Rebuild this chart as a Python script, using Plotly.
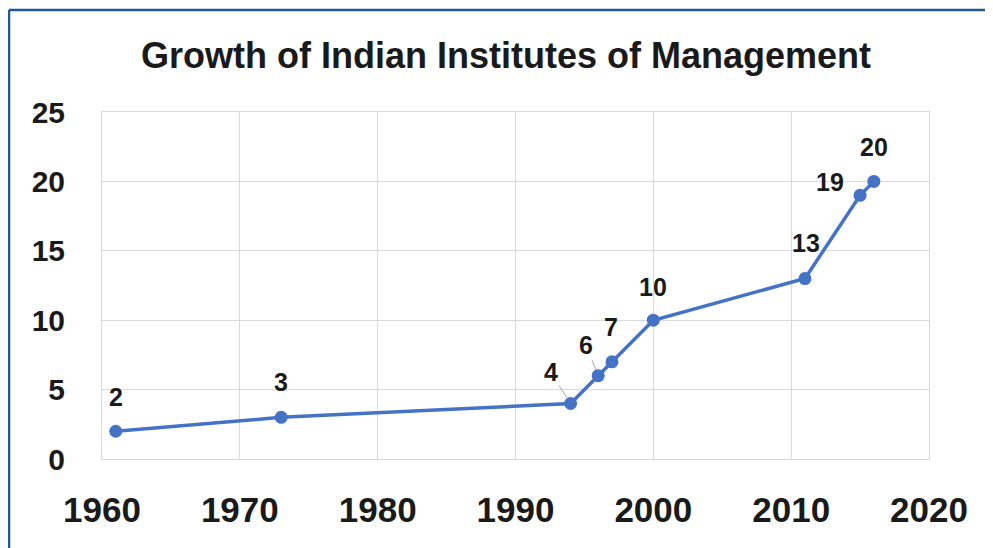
import plotly.graph_objects as go

years = [1961, 1973, 1994, 1996, 1997, 2000, 2011, 2015, 2016]
counts = [2, 3, 4, 6, 7, 10, 13, 19, 20]
x_ticks = [1960, 1970, 1980, 1990, 2000, 2010, 2020]
y_ticks = [0, 5, 10, 15, 20, 25]
title_text = "Growth of Indian Institutes of Management"

# label offsets (pixels) relative to each point: (dx, dy, leader line?)
label_offsets = [(0, -34, False), (0, -35, False), (-20, -31, True), (-12, -31, True),
                 (-1, -35, False), (0, -33, False), (1, -36, False), (-30, -13, False),
                 (0, -34, False)]

LINE = "#4472C4"
TXT = "#1a1a1a"
FONT = "Liberation Sans"

fig = go.Figure()
fig.add_trace(go.Scatter(
    x=years, y=counts, mode="lines+markers",
    line=dict(color=LINE, width=3.5),
    marker=dict(color=LINE, size=13),
    hoverinfo="x+y", showlegend=False,
))

for xv, yv, (dx, dy, leader) in zip(years, counts, label_offsets):
    if leader:
        fig.add_annotation(x=xv, y=yv, text=str(yv), showarrow=True,
                           ax=dx, ay=dy, arrowhead=0, arrowwidth=1,
                           arrowcolor="#a6a6a6", standoff=6,
                           font=dict(family=FONT, size=25, color=TXT, weight=700))
    else:
        fig.add_annotation(x=xv, y=yv, text=str(yv), showarrow=False,
                           xshift=dx, yshift=-dy,
                           font=dict(family=FONT, size=25, color=TXT, weight=700))

W, H = 993, 548
OFF = 8  # page body margin
L, R, T, B = 102 - OFF, 993 - 929 + OFF, 112 - OFF, 548 - 459 + OFF
pw, ph = W - L - R, H - T - B
bx = (9 - OFF - L) / pw
by = 1 + (T - (10 - OFF)) / ph
fig.add_shape(type="line", xref="paper", yref="paper", x0=bx, x1=bx, y0=-0.4, y1=by,
              line=dict(color="#1F5A96", width=2.5))
fig.add_shape(type="line", xref="paper", yref="paper", x0=bx, x1=1.2, y0=by, y1=by,
              line=dict(color="#1F5A96", width=2.5))

fig.update_layout(
    width=W, height=H,
    margin=dict(l=L, r=R, t=T, b=B),
    paper_bgcolor="white", plot_bgcolor="white",
    title=dict(text=title_text, x=(506 - OFF) / W, xanchor="center", y=1 - (55 - OFF) / H,
               yanchor="middle", xref="container", yref="container",
               font=dict(family=FONT, size=36, color=TXT, weight=700)),
    font=dict(family=FONT, color=TXT),
)
fig.update_xaxes(range=[1960, 2020], tickvals=x_ticks, ticktext=[str(v) for v in x_ticks],
                 showgrid=True, gridcolor="#d9d9d9", gridwidth=1,
                 showline=True, mirror=True, linecolor="#d9d9d9", linewidth=1,
                 zeroline=False, ticks="", ticklabelstandoff=20,
                 tickfont=dict(family=FONT, size=35, color=TXT, weight=700))
fig.update_yaxes(range=[0, 25], tickvals=y_ticks, ticktext=[str(v) for v in y_ticks],
                 showgrid=True, gridcolor="#d9d9d9", gridwidth=1,
                 showline=True, mirror=True, linecolor="#d9d9d9", linewidth=1,
                 zeroline=False, ticks="", ticklabelstandoff=30,
                 tickfont=dict(family=FONT, size=30, color=TXT, weight=700))

fig.write_html("out.html")
